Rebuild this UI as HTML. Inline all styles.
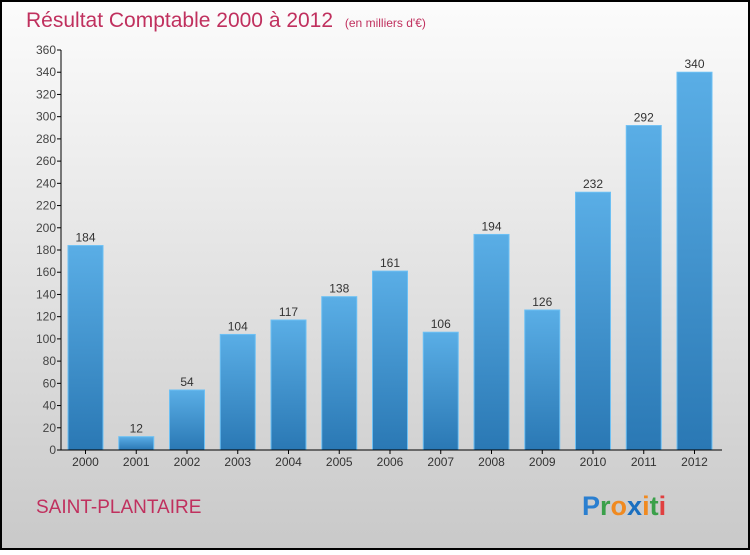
<!DOCTYPE html>
<html><head><meta charset="utf-8"><style>
body{margin:0;width:750px;height:550px;overflow:hidden;font-family:"Liberation Sans",sans-serif}
</style></head><body>
<svg width="750" height="550" xmlns="http://www.w3.org/2000/svg">
<defs>
<linearGradient id="bg" x1="0" y1="0" x2="0" y2="1"><stop offset="0" stop-color="#fcfcfc"/><stop offset="1" stop-color="#c9c9c9"/></linearGradient>
<linearGradient id="bar" x1="0" y1="0" x2="0" y2="1"><stop offset="0" stop-color="#5aaee6"/><stop offset="1" stop-color="#2a78b4"/></linearGradient>
</defs>
<rect x="1" y="1" width="748" height="548" fill="url(#bg)" stroke="#000" stroke-width="2"/>
<text x="26" y="27" font-size="21" fill="#c0305e">Résultat Comptable 2000 à 2012 <tspan font-size="12" dx="6">(en milliers d'€)</tspan></text>
<g id="yaxis"></g>
<g id="bars"></g>
<line x1="61" y1="50" x2="61" y2="450" stroke="#000"/>
<line x1="61" y1="450" x2="722" y2="450" stroke="#000"/>
<text x="36" y="513" font-size="19" fill="#c0305e">SAINT-PLANTAIRE</text>
<text x="582" y="515" font-size="27" font-weight="bold"><tspan fill="#2a7fd0">P</tspan><tspan fill="#3aa04a">r</tspan><tspan fill="#f08a20">o</tspan><tspan fill="#1a6fc0">x</tspan><tspan fill="#f08a20">i</tspan><tspan fill="#3aa04a">t</tspan><tspan fill="#e04040">i</tspan></text>
</svg>
<script>
const categories=["2000","2001","2002","2003","2004","2005","2006","2007","2008","2009","2010","2011","2012"];
const values=[184,12,54,104,117,138,161,106,194,126,232,292,340];
const yTicks=[0,20,40,60,80,100,120,140,160,180,200,220,240,260,280,300,320,340,360];
const NS="http://www.w3.org/2000/svg";
const y=v=>450-v*400/360;
const x=i=>85.5+i*50.75;
const ya=document.getElementById('yaxis'),bg=document.getElementById('bars');
function mk(tag,attrs,parent,txt){const e=document.createElementNS(NS,tag);for(const k in attrs)e.setAttribute(k,attrs[k]);if(txt!==undefined)e.textContent=txt;parent.appendChild(e);return e;}
yTicks.forEach(t=>{
 const l=mk('line',{x1:57,x2:61,y1:y(t),y2:y(t),stroke:'#000'},ya);
 
 
 const tx=mk('text',{x:56,y:y(t)+4,'font-size':12,fill:'#444','text-anchor':'end'},ya,t);
 
 
});
categories.forEach((c,i)=>{
 const r=mk('rect',{x:x(i)-17.5,y:y(values[i]),width:35,height:450-y(values[i]),fill:'url(#bar)',stroke:'#6cc0f4','stroke-width':1},bg);
 
 
 const v=mk('text',{x:x(i),y:y(values[i])-4,'font-size':12,fill:'#333','text-anchor':'middle'},bg,values[i]);
 
 
 const tk=mk('line',{x1:x(i),x2:x(i),y1:450,y2:454,stroke:'#000'},bg);
 
 
 const lb=mk('text',{x:x(i),y:466,'font-size':12,fill:'#333','text-anchor':'middle'},bg,c);
 
 
});
</script>
</body></html>
